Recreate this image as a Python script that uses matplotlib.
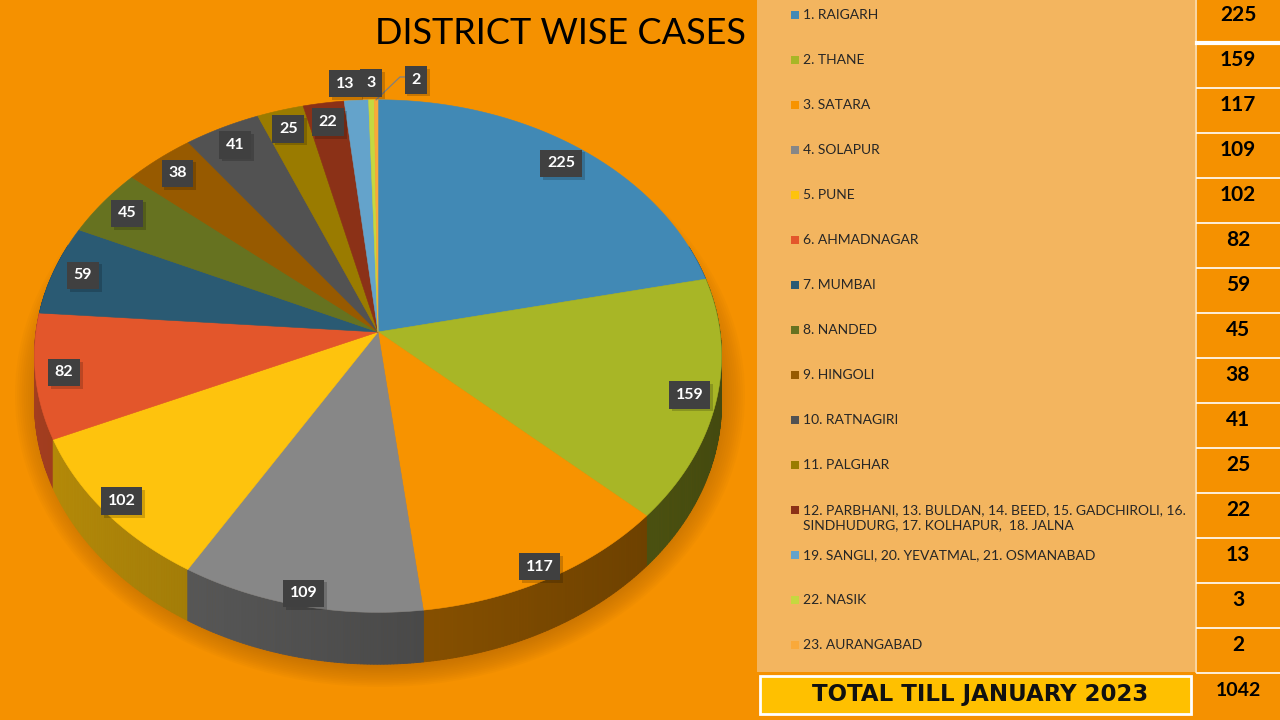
import numpy as np
import matplotlib
matplotlib.use("Agg")
import matplotlib.pyplot as plt
from matplotlib.patches import Polygon, Ellipse, Rectangle
from matplotlib.collections import PolyCollection
import matplotlib.patheffects as pe
from matplotlib.colors import to_rgb

# ---- data ----
districts = [
    "1. RAIGARH", "2. THANE", "3. SATARA", "4. SOLAPUR", "5. PUNE",
    "6. AHMADNAGAR", "7. MUMBAI", "8. NANDED", "9. HINGOLI", "10. RATNAGIRI",
    "11. PALGHAR",
    "12. PARBHANI, 13. BULDAN, 14. BEED, 15. GADCHIROLI, 16.\nSINDHUDURG, 17. KOLHAPUR,  18. JALNA",
    "19. SANGLI, 20. YEVATMAL, 21. OSMANABAD", "22. NASIK", "23. AURANGABAD",
]
cases = [225, 159, 117, 109, 102, 82, 59, 45, 38, 41, 25, 22, 13, 3, 2]
slice_colors = [
    "#4189B5", "#A8B626", "#F79300", "#878787", "#FEC30D",
    "#E3562B", "#2A5A73", "#667220", "#975A00", "#525252",
    "#9A7B00", "#8B3117", "#64A3CB", "#C5D840", "#F9A93A",
]
title = "DISTRICT WISE CASES"
total_label = "TOTAL TILL JANUARY 2023"

BG = "#F59100"
PANEL = "#F3B55F"

# pie geometry (pixels)
CX, CY, RX, RY, K, DEPTH = 378, 332, 342, 254, 0.094, 47


def project(theta, r=1.0, drop=0.0):
    u = r * np.sin(theta)
    v = r * np.cos(theta)
    w = 1 + K * v
    return CX + RX * u / w, CY - RY * v / w + drop / w


fig = plt.figure(figsize=(12.8, 7.2), dpi=100)
ax = fig.add_axes([0, 0, 1, 1])
ax.set_xlim(0, 1280)
ax.set_ylim(720, 0)
ax.axis("off")
fig.patch.set_facecolor(BG)

# shadow under the pie
for i in range(16):
    s = 1 - i * 0.006
    ax.add_patch(Ellipse((380, 395), 2 * 365 * s, 2 * 292 * s,
                         color="#B06400", alpha=0.06, lw=0, zorder=1))

total = sum(cases)
bounds = 2 * np.pi * np.concatenate([[0], np.cumsum(cases)]) / total

# side walls
polys, cols, depth_key = [], [], []
for i, c in enumerate(slice_colors):
    t0, t1 = bounds[i], bounds[i + 1]
    n = max(2, int(np.degrees(t1 - t0) / 0.5))
    ts = np.linspace(t0, t1, n + 1)
    base = np.array(to_rgb(c))
    for a, b in zip(ts[:-1], ts[1:]):
        m = 0.5 * (a + b)
        if np.cos(m) > 0.35:
            continue
        xa, ya = project(a)
        xb, yb = project(b)
        xa2, ya2 = project(a, drop=DEPTH)
        xb2, yb2 = project(b, drop=DEPTH)
        polys.append([(xa, ya), (xb, yb), (xb2, yb2), (xa2, ya2)])
        f = np.clip(0.56 - 0.16 * np.sin(m), 0.3, 0.8)
        cols.append(base * f)
        depth_key.append(np.cos(m))
order = np.argsort(depth_key)[::-1]
pc = PolyCollection([polys[j] for j in order],
                    facecolors=[cols[j] for j in order],
                    edgecolors=[cols[j] for j in order], linewidths=0.6, zorder=2)
ax.add_collection(pc)

# top face
for i, c in enumerate(slice_colors):
    t0, t1 = bounds[i], bounds[i + 1]
    ts = np.linspace(t0, t1, max(3, int(np.degrees(t1 - t0)) + 2))
    xs, ys = project(ts)
    pts = [(CX, CY)] + list(zip(xs, ys))
    ax.add_patch(Polygon(pts, closed=True, fc=c, ec=c, lw=0.4, zorder=3))

# data labels
label_dx = {12: -10, 14: 40}
for i, val in enumerate(cases):
    mid = 0.5 * (bounds[i] + bounds[i + 1])
    if val < 20:
        r = 1.08
    else:
        r = 0.91 + 0.05 * max(0.0, -np.cos(mid))
    lx, ly = project(mid, r=r)
    lx += label_dx.get(i, 0)
    if i == 14:
        ly -= 3
        ax_, ay_ = project(mid, r=1.0)
        ax.plot([ax_, lx - 16, lx - 10], [ay_, ly - 3, ly - 3],
                color="#7F7F7F", lw=0.9, zorder=4)
    t = ax.text(lx, ly, str(val), ha="center", va="center", color="white",
                fontsize=11.5, fontweight="bold", family="Lato", zorder=6,
                bbox=dict(boxstyle="square,pad=0.42", fc="#404040", ec="none"))
    t.get_bbox_patch().set_path_effects(
        [pe.withSimplePatchShadow(offset=(2, -2), shadow_rgbFace="black", alpha=0.18)])

# title
ax.text(746, 33, title, ha="right", va="center", fontsize=26,
        family="Lato", color="black", zorder=6)

# legend panel
ax.add_patch(Rectangle((757, 0), 438, 672, fc=PANEL, ec="none", zorder=1))
ax.add_patch(Rectangle((1197, 0), 83, 720, fc=BG, ec="none", zorder=1))
ax.plot([1196, 1196], [0, 672], color="#FBE3C0", lw=1.2, zorder=2)

row_y = 15 + 45 * np.arange(len(districts))
for y, name, c, val in zip(row_y, districts, slice_colors, cases):
    ax.add_patch(Rectangle((791, y - 4), 8, 8, fc=c, ec="none", zorder=3))
    ax.text(803, y - 6, name, ha="left", va="top", fontsize=10,
            family="Lato", color="#262626", linespacing=1.35, zorder=3)
    ax.text(1238, y, str(val), ha="center", va="center", fontsize=15,
            fontweight="bold", family="Lato", color="black", zorder=3)
for k, y in enumerate(row_y[:-1] + 27.5):
    ax.plot([1197, 1280], [y, y], color="white", lw=3 if k == 0 else 1.2, zorder=2)
ax.plot([1197, 1280], [row_y[-1] + 28, row_y[-1] + 28], color="white", lw=1.2, zorder=2)

# total row
ax.add_patch(Rectangle((760, 676), 431, 38, fc="#FFC000", ec="white", lw=2, zorder=3))
ax.text(980, 695, total_label, ha="center", va="center", fontsize=16.5,
        fontweight="bold", family="DejaVu Sans", color="#111111", zorder=4)
ax.text(1238, 690, str(total), ha="center", va="center", fontsize=14,
        fontweight="bold", family="Lato", color="black", zorder=4)

fig.savefig("out.png", dpi=100, facecolor=BG)
